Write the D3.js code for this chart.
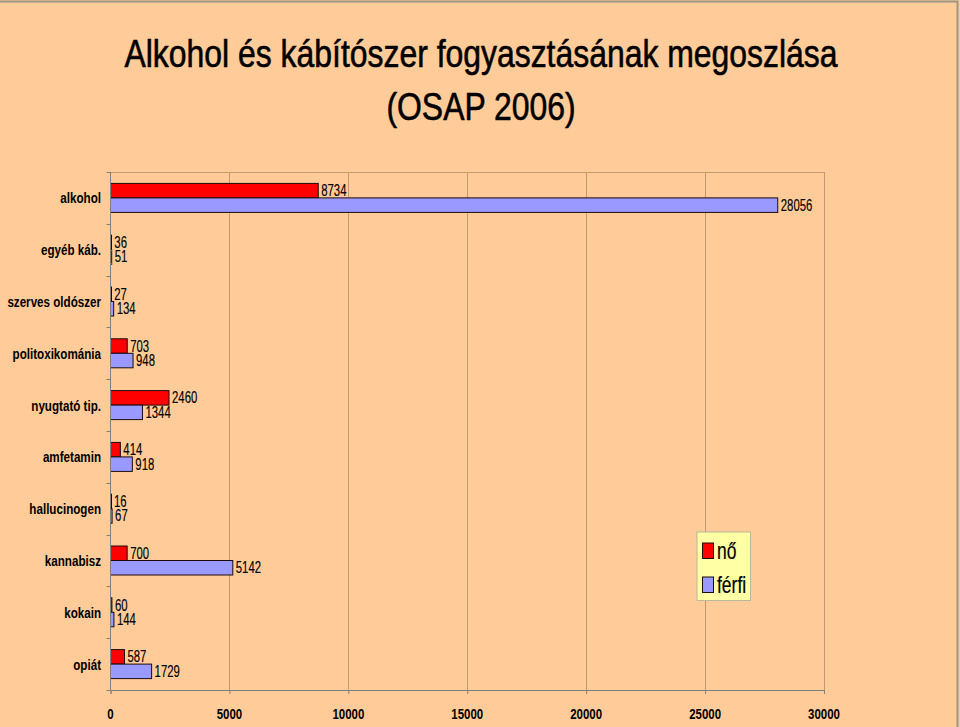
<!DOCTYPE html>
<html><head><meta charset="utf-8">
<script src="https://cdn.jsdelivr.net/npm/d3@7"></script>
<style>html,body{margin:0;padding:0;background:#FFCC99;}svg{display:block;}text{font-family:"Liberation Sans",Arial,sans-serif;fill:#000;}</style>
</head><body><svg id="c" width="960" height="727"></svg>
<script>
const categories = ["alkohol","egyéb káb.","szerves oldószer","politoxikománia","nyugtató tip.","amfetamin","hallucinogen","kannabisz","kokain","opiát"];
const seriesNames = ["nő","férfi"];
const noValues = [8734,36,27,703,2460,414,16,700,60,587];
const ferfiValues = [28056,51,134,948,1344,918,67,5142,144,1729];
const xTicks = [0,5000,10000,15000,20000,25000,30000];
const titleLines = ["Alkohol és kábítószer fogyasztásának megoszlása","(OSAP 2006)"];
const colors = ["#FF0000","#9999FF"];

const svg = d3.select("#c");
const W=960,H=727;
svg.append("rect").attr("width",W).attr("height",H).attr("fill","#FFCC99");
svg.append("path").attr("d","M0,1.5H957.5V727").attr("fill","none").attr("stroke","#9C9484").attr("stroke-width",2);

const L=110.5,R=824,T=172,B=690;
const x = d3.scaleLinear().domain([0,30000]).range([L,R]);
const y0 = d3.scaleBand().domain(categories).range([T,B]);
const bw = y0.bandwidth();
const grp = 29;
const y1 = d3.scaleBand().domain(seriesNames).range([(bw-grp)/2,(bw+grp)/2]);

function txt(g, xx, yy, s, size, anchor, weight, sx, sw){
  const gg = g.append("g").attr("transform",`translate(${xx},${yy}) scale(${sx},1)`);
  const t = gg.append("text").attr("font-size",size).attr("text-anchor",anchor||"start").attr("font-weight",weight||"normal").text(s);
  if(sw){ t.attr("stroke","#000").attr("stroke-width",sw); }
  return gg;
}

// title
txt(svg,481,67,titleLines[0],38,"middle","normal",0.84,0.6);
txt(svg,481,120,titleLines[1],38,"middle","normal",0.84,0.6);

// gridlines
const grid = svg.append("g");
grid.selectAll("line").data(xTicks.slice(1)).join("line")
  .attr("x1",d=>Math.round(x(d))+0.5).attr("x2",d=>Math.round(x(d))+0.5)
  .attr("y1",T).attr("y2",B).attr("stroke","#C49A6C").attr("stroke-width",1);
svg.append("line").attr("x1",L).attr("x2",R+0.5).attr("y1",T+0.5).attr("y2",T+0.5).attr("stroke","#C49A6C");

// bars
const data = categories.map((c,i)=>({c, vals:[{s:seriesNames[0],v:noValues[i],col:colors[0]},{s:seriesNames[1],v:ferfiValues[i],col:colors[1]}]}));
const cg = svg.append("g").selectAll("g").data(data).join("g").attr("transform",d=>`translate(0,${y0(d.c)})`);
cg.selectAll("rect").data(d=>d.vals).join("rect")
  .attr("x",x(0)).attr("y",d=>y1(d.s)).attr("width",d=>Math.max(1,x(d.v)-x(0))).attr("height",y1.bandwidth())
  .attr("fill",d=>d.col).attr("stroke","#1a0a0a").attr("stroke-width",1);
cg.each(function(d){
  const g=d3.select(this);
  d.vals.forEach((v,i)=>{
    txt(g, x(v.v)+3, y1(v.s)+y1.bandwidth()/2+5.5, String(v.v), 16, "start","normal",0.71,0.15);
  });
});

// axes
const xa = svg.append("g").attr("transform",`translate(0,${B})`)
  .call(d3.axisBottom(x).tickValues(xTicks).tickSize(4).tickFormat(""));
xa.select(".domain").attr("stroke","#808080");
xa.selectAll(".tick line").attr("stroke","#808080");
xTicks.forEach(t=>txt(svg,x(t),719,String(t),15.5,"middle","bold",0.74));

const yTickPos = categories.map(c=>y0(c)).concat([B]);
const ya = svg.append("g");
ya.append("line").attr("x1",L).attr("x2",L).attr("y1",T).attr("y2",B).attr("stroke","#808080");
ya.selectAll("line.t").data(yTickPos).join("line").attr("class","t")
  .attr("x1",L-4).attr("x2",L).attr("y1",d=>Math.round(d)+0.5).attr("y2",d=>Math.round(d)+0.5).attr("stroke","#808080");
categories.forEach(c=>txt(svg,101,y0(c)+bw/2+5.5,c,15.5,"end","bold",0.75));

// legend
const lg = svg.append("g");
lg.append("rect").attr("x",697).attr("y",532).attr("width",53.5).attr("height",68.5).attr("fill","#FFFFA6").attr("stroke","#B8B89A");
seriesNames.forEach((s,i)=>{
  const yy = 543 + i*34;
  lg.append("rect").attr("x",702.5).attr("y",yy).attr("width",11).attr("height",15.5).attr("fill",colors[i]).attr("stroke","#1a0a0a");
  txt(lg,717,yy+15.5,s,23,"start","normal",0.76,0.2);
});
</script></body></html>
